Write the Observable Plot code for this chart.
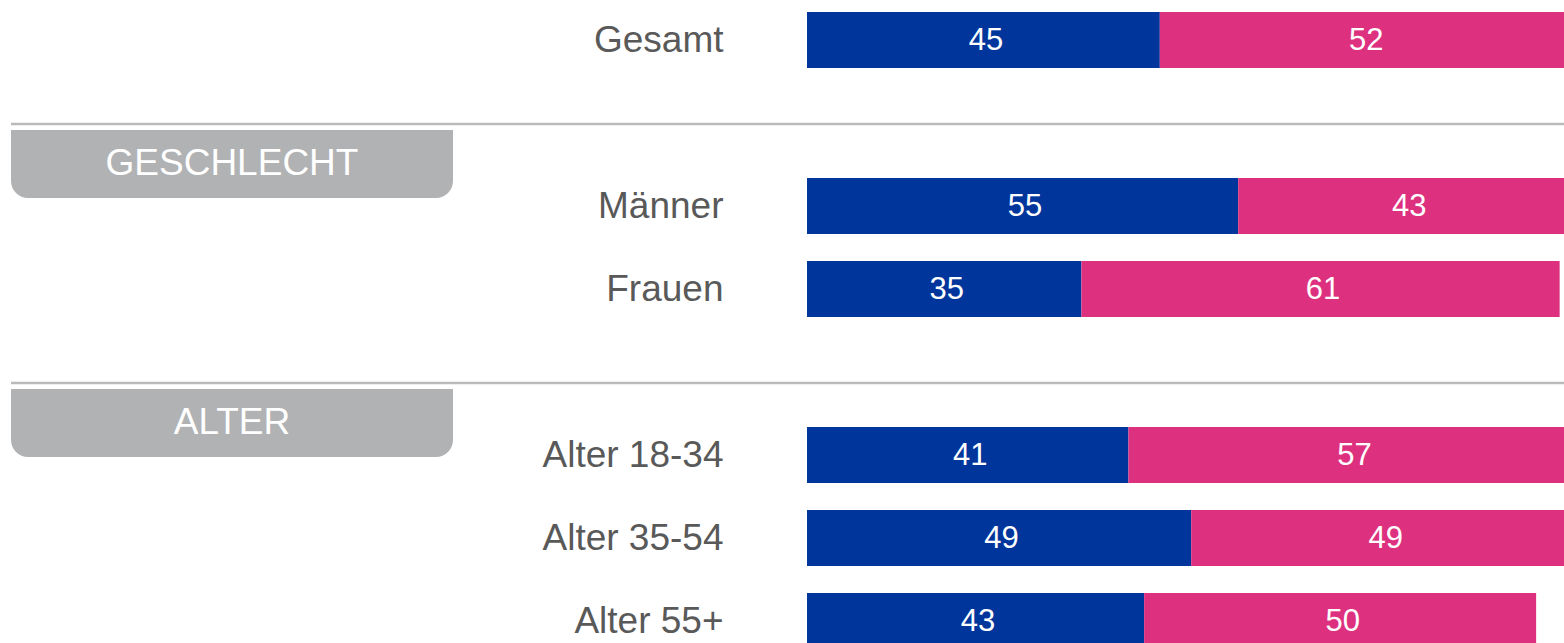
<!DOCTYPE html>
<html><head><meta charset="utf-8">
<script src="https://cdn.jsdelivr.net/npm/d3@7"></script>
<script src="https://cdn.jsdelivr.net/npm/@observablehq/plot@0.6"></script>
<style>html,body{margin:0;padding:0;background:#fff;overflow:hidden}</style>
</head><body><div id="chart"></div>
<script>
// Data
const categories = ["Gesamt", "", "Männer", "Frauen", " ", "Alter 18-34", "Alter 35-54", "Alter 55+"];
const seriesNames = ["Serie 1", "Serie 2"];
const series1 = [45, null, 55, 35, null, 41, 49, 43];
const series2 = [52, null, 43, 61, null, 57, 49, 50];
const groupLabels = ["GESCHLECHT", "ALTER"];
const groupFirst = ["Männer", "Alter 18-34"];

// Styles
const colors = ["#00359c", "#dd3180"];
const lineOffsets = [54, 44];

const rows = [];
categories.forEach((c, i) => {
  if (series1[i] != null) rows.push({cat: c, series: seriesNames[0], value: series1[i]});
  if (series2[i] != null) rows.push({cat: c, series: seriesNames[1], value: series2[i]});
});
const labelled = categories.filter((c, i) => series1[i] != null);

function decor(index, scales, values, dims) {
  const g = d3.create("svg:g");
  groupLabels.forEach((lab, i) => {
    const yl = scales.y(groupFirst[i]) - lineOffsets[i];
    g.append("line").attr("x1", 11).attr("x2", dims.width).attr("y1", yl).attr("y2", yl)
      .attr("stroke", "#bababa").attr("stroke-width", 2.5);
    const top = yl + 6, h = 68, x0 = 11, x1 = 453, r = 17;
    g.append("path")
      .attr("d", `M${x0},${top}H${x1}V${top + h - r}A${r},${r} 0 0 1 ${x1 - r},${top + h}H${x0 + r}A${r},${r} 0 0 1 ${x0},${top + h - r}Z`)
      .attr("fill", "#b1b2b4");
    g.append("text").attr("x", (x0 + x1) / 2).attr("y", top + h / 2 - 2)
      .attr("text-anchor", "middle").attr("dominant-baseline", "central")
      .attr("fill", "#ffffff").attr("font-size", 37).text(lab);
  });
  return g.node();
}

const chart = Plot.plot({
  width: 1564,
  height: 643,
  margin: 0,
  style: {fontFamily: "'Liberation Sans', Arial, sans-serif", background: "#fff", overflow: "hidden"},
  x: {domain: [0, 100], range: [807, 1591], axis: null},
  y: {domain: categories, range: [-1.5, 662.5], paddingInner: 0.325, paddingOuter: 0.1625, axis: null},
  color: {domain: seriesNames, range: colors},
  marks: [
    decor,
    Plot.barX(rows, Plot.stackX({x: "value", y: "cat", fill: "series", order: null})),
    Plot.text(rows, Plot.stackX({x: "value", y: "cat", order: null, text: d => String(d.value), fill: "white", fontSize: 31, dx: 2})),
    Plot.text(labelled, {x: () => 0, y: d => d, text: d => d, textAnchor: "end", dx: -84, fontSize: 37, fill: "#595959"})
  ]
});
document.getElementById("chart").append(chart);
</script>
</body></html>
